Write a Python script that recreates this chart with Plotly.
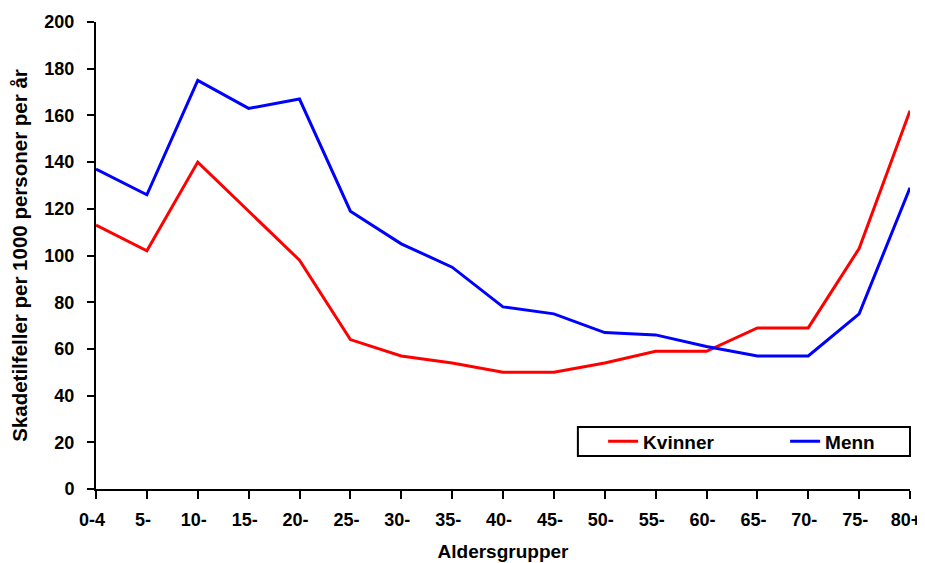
import plotly.graph_objects as go

categories = ["0-4", "5-", "10-", "15-", "20-", "25-", "30-", "35-", "40-",
              "45-", "50-", "55-", "60-", "65-", "70-", "75-", "80+"]
kvinner = [113, 102, 140, 119, 98, 64, 57, 54, 50, 50, 54, 59, 59, 69, 69, 103, 162]
menn = [137, 126, 175, 163, 167, 119, 105, 95, 78, 75, 67, 66, 61, 57, 57, 75, 129]
y_ticks = list(range(0, 201, 20))

FONT = "Liberation Sans, Arial, sans-serif"
TF = dict(family=FONT, size=18, color="black", weight="bold")
LF = dict(family=FONT, size=19, color="black", weight="bold")

fig = go.Figure()
fig.add_trace(go.Scatter(x=categories, y=kvinner, mode="lines", name="Kvinner",
                         line=dict(color="#FF0000", width=3), cliponaxis=False))
fig.add_trace(go.Scatter(x=categories, y=menn, mode="lines", name="Menn",
                         line=dict(color="#0000FF", width=3), cliponaxis=False))

# legend frame
fig.add_shape(type="rect", xref="paper", yref="paper",
              x0=0.592, x1=1.0, y0=0.0707, y1=0.1328,
              line=dict(color="black", width=2), fillcolor="white", layer="below")

fig.update_layout(
    width=917, height=555,
    margin=dict(l=88, r=15, t=14, b=74, autoexpand=False),
    paper_bgcolor="white", plot_bgcolor="white",
    font=TF,
    showlegend=True,
    legend=dict(orientation="h", x=0.623, y=0.102, xanchor="left", yanchor="middle",
                borderwidth=0, bgcolor="rgba(0,0,0,0)",
                font=LF, entrywidth=137, entrywidthmode="pixels", traceorder="normal"),
    xaxis=dict(
        type="category", range=[0, 16],
        showline=True, linecolor="black", linewidth=2,
        ticks="outside", ticklen=8, tickwidth=2, tickcolor="black",
        showgrid=False, zeroline=False,
        tickfont=TF, ticklabelstandoff=5, ticklabelshift=-4,
        title=dict(text="Aldersgrupper", standoff=16, font=LF),
    ),
    yaxis=dict(
        range=[0, 200], tickvals=y_ticks,
        showline=True, linecolor="black", linewidth=2,
        ticks="outside", ticklen=7, tickwidth=2, tickcolor="black",
        showgrid=False, zeroline=False,
        tickfont=TF, ticklabelstandoff=9,
        title=dict(text="Skadetilfeller per 1000 personer per år", standoff=13,
                   font=dict(family=FONT, size=20.5, color="black", weight="bold")),
    ),
)

fig.write_html("out.html")
